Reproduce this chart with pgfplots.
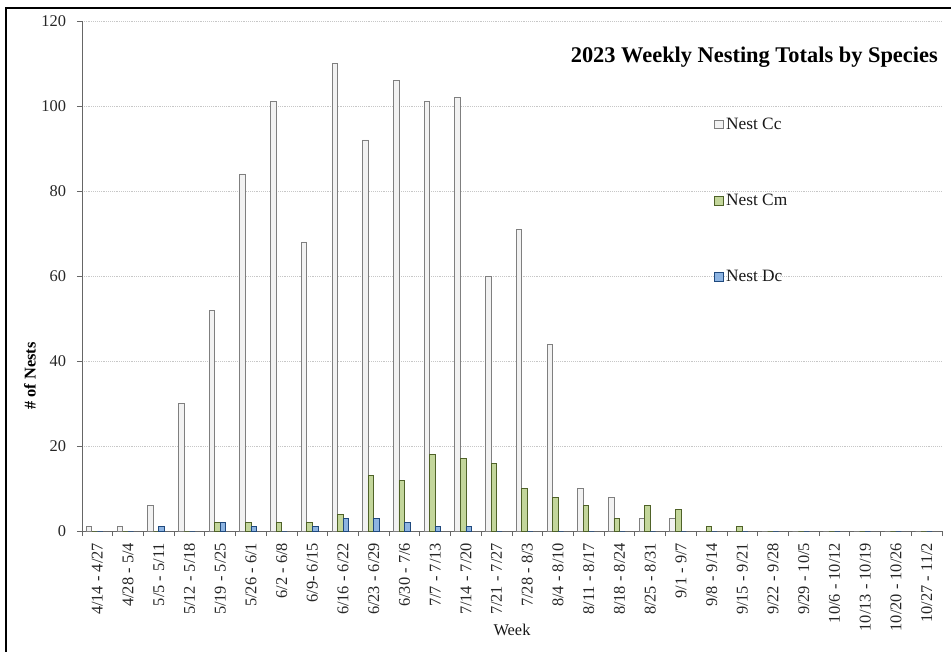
\documentclass[border=0pt]{standalone}
\usepackage{fontspec}
\setmainfont{Liberation Serif}
\usepackage{pgfplots}
\pgfplotsset{compat=1.18}
\definecolor{ccfill}{HTML}{F2F2F2}
\definecolor{ccdraw}{HTML}{7F7F7F}
\definecolor{cmfill}{HTML}{C3D69B}
\definecolor{cmdraw}{HTML}{4F6228}
\definecolor{dcfill}{HTML}{8DB4E2}
\definecolor{dcdraw}{HTML}{1F497D}
\begin{document}
\begin{tikzpicture}[x=0.75pt,y=0.75pt]
\path[use as bounding box] (0,0) rectangle (951,651);
\draw[line width=2.2pt] (6,-5) -- (6,643) -- (956,643);
\begin{axis}[
  at={(61.5pt,90pt)}, anchor=south west,
  scale only axis, width=645pt, height=382.5pt,
  xmin=-0.5, xmax=27.5, ymin=0, ymax=120,
  ytick={0,20,...,120},
  xtick={0,...,27},
  xticklabels={4/14 - 4/27,4/28 - 5/4,5/5 - 5/11,5/12 - 5/18,5/19 - 5/25,5/26 - 6/1,6/2 - 6/8,6/9- 6/15,6/16 - 6/22,6/23 - 6/29,6/30 - 7/6,7/7 - 7/13,7/14 - 7/20,7/21 - 7/27,7/28 - 8/3,8/4 - 8/10,8/11 - 8/17,8/18 - 8/24,8/25 - 8/31,9/1 - 9/7,9/8 - 9/14,9/15 - 9/21,9/22 - 9/28,9/29 - 10/5,10/6 - 10/12,10/13 - 10/19,10/20 - 10/26,10/27 - 11/2},
  minor xtick={-0.5,0.5,...,27.5},
  axis x line*=bottom, axis y line*=left,
  axis line style={-, black!60, line width=0.6pt},
  tick align=outside,
  major x tick style={draw=none},
  minor x tick style={black!60, line width=0.6pt},
  y tick style={black!60, line width=0.6pt},
  major tick length=3.8pt, minor tick length=3.8pt,
  ymajorgrids,
  grid style={densely dotted, black!22, line width=0.6pt},
  /pgf/number format/assume math mode=true,
  ticklabel style={font=\fontsize{12.3}{14}\selectfont, text=black!85},
  xticklabel style={rotate=90, anchor=east, inner sep=0pt, xshift=-5pt},
  yticklabel style={inner sep=0pt, xshift=-8pt},
  ybar,
  bar width=0.18,
  legend style={at={(0.735,0.648)}, anchor=west, draw=none, fill=none,
    inner sep=0pt, row sep=44pt, font=\fontsize{13}{15}\selectfont,
    nodes={inner sep=1.5pt, text=black!90}},
  legend cell align=left,
  legend image code/.code={\draw[#1,line width=0.5pt] (0pt,-3.2pt) rectangle (6.8pt,3.2pt);},
]
\addplot[bar shift=-0.27, fill=ccfill, draw=ccdraw, line width=0.6pt] coordinates {
(0,1) (1,1) (2,6) (3,30) (4,52) (5,84) (6,101) (7,68) (8,110) (9,92) (10,106) (11,101) (12,102) (13,60) (14,71) (15,44) (16,10) (17,8) (18,3) (19,3) (20,0) (21,0) (22,0) (23,0) (24,0) (25,0) (26,0) (27,0)};
\addplot[bar shift=-0.09, fill=cmfill, draw=cmdraw, line width=0.5pt] coordinates {
(0,0) (1,0) (2,0) (3,0) (4,2) (5,2) (6,2) (7,2) (8,4) (9,13) (10,12) (11,18) (12,17) (13,16) (14,10) (15,8) (16,6) (17,3) (18,6) (19,5) (20,1) (21,1) (22,0) (23,0) (24,0) (25,0) (26,0) (27,0)};
\addplot[bar shift=0.09, fill=dcfill, draw=dcdraw, line width=0.5pt] coordinates {
(0,0) (1,0) (2,1) (3,0) (4,2) (5,1) (6,0) (7,1) (8,3) (9,3) (10,2) (11,1) (12,1) (13,0) (14,0) (15,0) (16,0) (17,0) (18,0) (19,0) (20,0) (21,0) (22,0) (23,0) (24,0) (25,0) (26,0) (27,0)};
\legend{Nest Cc, Nest Cm, Nest Dc}
\end{axis}
\node[anchor=base east, font=\bfseries\fontsize{16.8}{20}\selectfont, inner sep=0pt] at (938,588) {2023 Weekly Nesting Totals by Species};
\node[anchor=base, font=\fontsize{12.3}{14}\selectfont, inner sep=0pt, text=black!90] at (512,16) {Week};
\node[rotate=90, font=\bfseries\fontsize{12.3}{14}\selectfont, inner sep=0pt] at (30,275) {\# of Nests};
\end{tikzpicture}
\end{document}
